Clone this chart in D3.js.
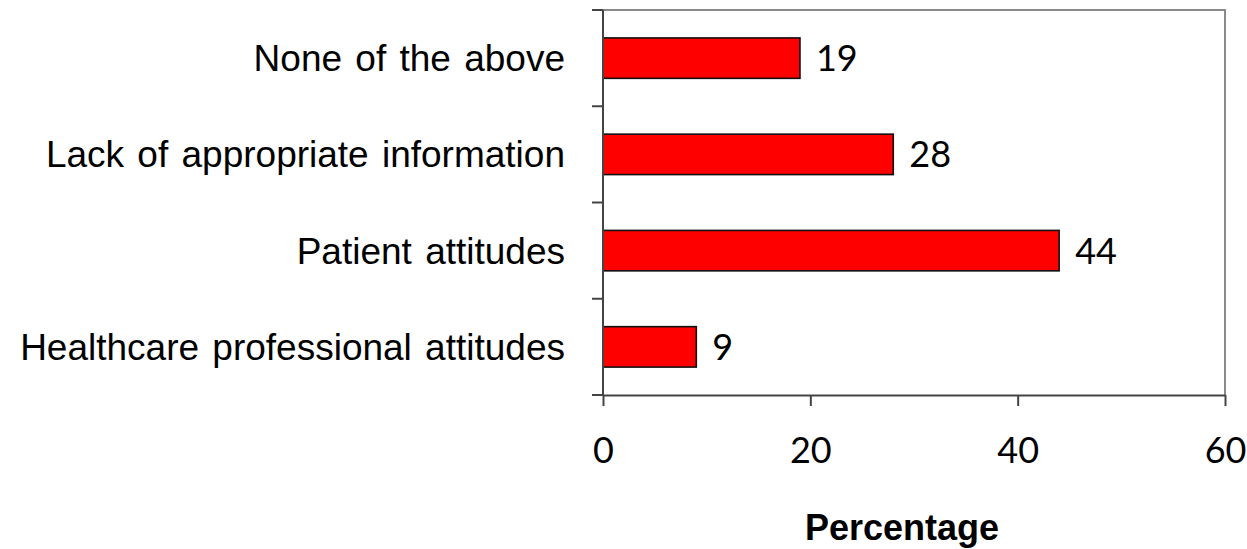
<!DOCTYPE html>
<html>
<head>
<meta charset="utf-8">
<script src="https://cdn.jsdelivr.net/npm/d3@7"></script>
<style>
  html, body { margin: 0; padding: 0; background: #fff; }
  svg { display: block; }
</style>
</head>
<body>
<svg id="chart" width="1247" height="549"></svg>
<script>
const categories = ["None of the above", "Lack of appropriate information", "Patient attitudes", "Healthcare professional attitudes"];
const values = [19, 28, 44, 9];
const xTicks = [0, 20, 40, 60];
const xTitle = "Percentage";

(function () {
const svg = d3.select("#chart");
const pLeft = 603, pRight = 1225, pTop = 10, pBottom = 395;

const x = d3.scaleLinear().domain([0, 60]).range([pLeft, pRight]);
const y = d3.scaleBand().domain(categories).range([pTop, pBottom])
  .paddingInner(0.58).paddingOuter(0.29);

const labelFont = "'Liberation Sans', Arial, sans-serif";
const numFont = "Lato, 'Open Sans', sans-serif";

// top & right border
svg.append("path")
  .attr("d", `M${pLeft},${pTop}H${pRight}V${pBottom}`)
  .attr("fill", "none").attr("stroke", "#8a8a8a").attr("stroke-width", 2);

// bars
svg.selectAll("rect.bar").data(categories).enter().append("rect")
  .attr("class", "bar")
  .attr("x", x(0))
  .attr("y", d => y(d))
  .attr("width", (d, i) => x(values[i]) - x(0))
  .attr("height", y.bandwidth())
  .attr("fill", "#ff0000")
  .attr("stroke", "#111")
  .attr("stroke-width", 1.6);

// value labels
svg.selectAll("text.val").data(categories).enter().append("text")
  .attr("class", "val")
  .attr("x", (d, i) => x(values[i]) + 16)
  .attr("y", d => y(d) + y.bandwidth() / 2 + 13)
  .attr("font-family", numFont)
  .attr("font-size", 36)
  .attr("fill", "#000")
  .text((d, i) => values[i]);

// left axis line and boundary ticks
const step = y.step();
const boundaries = d3.range(categories.length + 1).map(i => pTop + i * step);
svg.append("line").attr("x1", pLeft).attr("x2", pLeft).attr("y1", pTop).attr("y2", pBottom)
  .attr("stroke", "#444").attr("stroke-width", 2);
svg.selectAll("line.ytick").data(boundaries).enter().append("line")
  .attr("class", "ytick")
  .attr("x1", pLeft - 11).attr("x2", pLeft)
  .attr("y1", d => d).attr("y2", d => d)
  .attr("stroke", "#444").attr("stroke-width", 2);

// category labels
svg.selectAll("text.cat").data(categories).enter().append("text")
  .attr("class", "cat")
  .attr("x", 565)
  .attr("y", d => y(d) + y.bandwidth() / 2 + 13)
  .attr("text-anchor", "end")
  .attr("font-family", labelFont)
  .attr("font-size", 37)
  .attr("word-spacing", 3)
  .attr("fill", "#000")
  .text(d => d);

// bottom axis
const xAxis = d3.axisBottom(x).tickValues(xTicks).tickSize(11).tickPadding(31).tickSizeOuter(0);
const gx = svg.append("g").attr("transform", `translate(0,${pBottom})`).call(xAxis);
gx.select(".domain").attr("stroke", "#444").attr("stroke-width", 2);
gx.selectAll(".tick line").attr("stroke", "#444").attr("stroke-width", 2);
gx.selectAll(".tick text")
  .attr("font-family", numFont).attr("font-size", 36).attr("fill", "#000")
  .attr("dy", "0.71em");

// axis title
svg.append("text")
  .attr("x", 902).attr("y", 540)
  .attr("text-anchor", "middle")
  .attr("font-family", labelFont)
  .attr("font-weight", "bold")
  .attr("font-size", 36)
  .attr("fill", "#000")
  .text(xTitle);
})();
</script>
</body>
</html>
